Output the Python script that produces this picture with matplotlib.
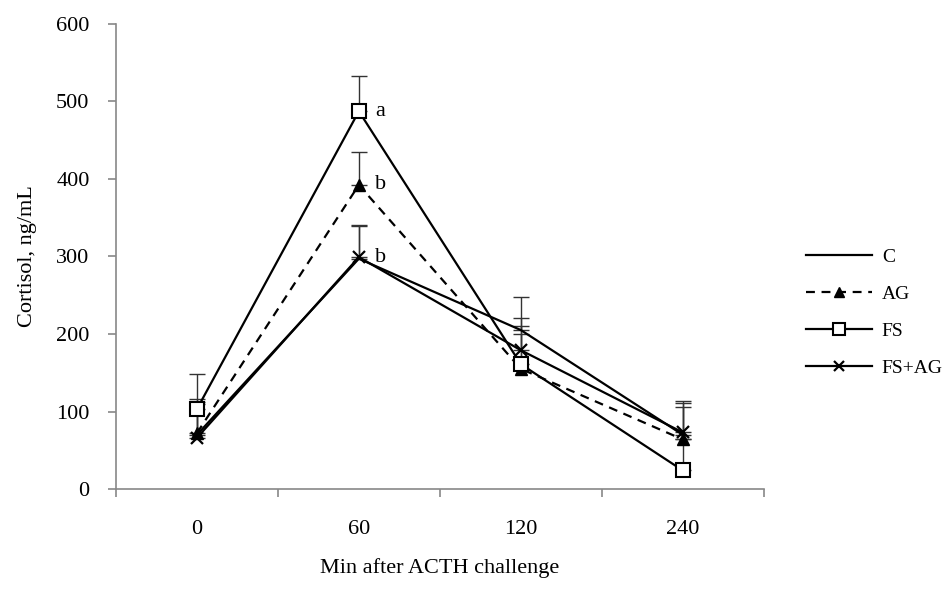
import numpy as np
import matplotlib.pyplot as plt

plt.rcParams['font.family'] = ['Liberation Serif', 'DejaVu Serif']
plt.rcParams['font.size'] = 16

# time points after ACTH (categorical axis)
times = ['0', '60', '120', '240']

# cortisol means and upper SE per treatment
c_mean = [70, 297, 205, 70]
c_err = [46, 42, 43, 41]
ag_mean = [72, 392, 155, 64]
ag_err = [40, 43, 45, 42]
fs_mean = [103, 487, 161, 24]
fs_err = [45, 45, 49, 40]
fsag_mean = [66, 299, 179, 73]
fsag_err = [44, 42, 42, 40]

# significance letters at 60 min
letters = ['a', 'b', 'b']
letter_vals = [fs_mean[1], ag_mean[1], fsag_mean[1]]

x = np.arange(len(times))

fig = plt.figure(figsize=(9.5, 5.9), dpi=100)
ax = fig.add_axes([0.122, 0.171, 0.682, 0.789])

series = [
    ('C', c_mean, c_err, dict(ls='-', marker=None)),
    ('AG', ag_mean, ag_err, dict(ls=(0, (4, 3)), marker='^', ms=9, mfc='black')),
    ('FS', fs_mean, fs_err, dict(ls='-', marker='s', ms=10, mfc='white', mew=1.5)),
    ('FS+AG', fsag_mean, fsag_err, dict(ls='-', marker='x', ms=9, mew=1.6)),
]

for name, m, e, st in series:
    ax.errorbar(x, m, yerr=[np.zeros(len(e)), e], fmt='none', ecolor='#333333',
                elinewidth=1, capsize=6, capthick=1, zorder=2)
    ax.plot(x, m, color='black', lw=1.6, label=name, zorder=3, **st)

for lab, v in zip(letters, letter_vals):
    ax.text(x[1] + 0.1, v, lab, ha='left', va='center', fontsize=16)

ax.set_xlim(-0.5, 3.5)
ax.set_ylim(0, 600)
ax.set_yticks(np.arange(0, 601, 100))
ax.set_xticks(x)
ax.set_xticklabels(times)
ax.set_xticks(np.arange(-0.5, 3.6, 1), minor=True)
ax.tick_params(axis='x', which='major', length=0, pad=22)
ax.tick_params(axis='x', which='minor', length=6, color='#888888', width=1.2)
ax.tick_params(axis='y', length=6, color='#888888', width=1.2, pad=13)

for s in ['top', 'right']:
    ax.spines[s].set_visible(False)
for s in ['left', 'bottom']:
    ax.spines[s].set_color('#888888')
    ax.spines[s].set_linewidth(1.2)

ax.set_ylabel('Cortisol, ng/mL', labelpad=14)
ax.set_xlabel('Min after ACTH challenge', labelpad=14)

fig.legend(loc='center left', bbox_to_anchor=(0.83, 0.47), frameon=False,
           handlelength=3.4, labelspacing=1.0, handletextpad=0.5, fontsize=14,
           markerscale=0.8)

fig.savefig('out.png', dpi=100)
